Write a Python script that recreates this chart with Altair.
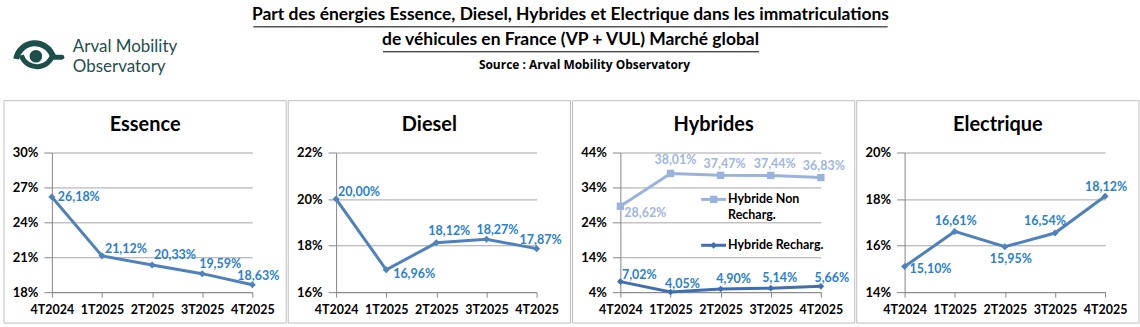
import altair as alt
import pandas as pd

# ---------------- data ----------------
QUARTERS = ["4T2024", "1T2025", "2T2025", "3T2025", "4T2025"]
ESSENCE = [26.18, 21.12, 20.33, 19.59, 18.63]
DIESEL = [20.00, 16.96, 18.12, 18.27, 17.87]
HYB_NON_RECH = [28.62, 38.01, 37.47, 37.44, 36.83]
HYB_RECH = [7.02, 4.05, 4.90, 5.14, 5.66]
ELECTRIQUE = [15.10, 16.61, 15.95, 16.54, 18.12]

PANEL_TITLES = ["Essence", "Diesel", "Hybrides", "Electrique"]
SERIES_NAMES = ["Hybride Non Recharg.", "Hybride Recharg."]
Y_TICKS = [
    [18, 21, 24, 27, 30],
    [16, 18, 20, 22],
    [4, 14, 24, 34, 44],
    [14, 16, 18, 20],
]
TITLE_LINES = [
    "Part des énergies Essence, Diesel, Hybrides et Electrique dans les immatriculations",
    "de véhicules en France (VP + VUL) Marché global",
]
SOURCE = "Source : Arval Mobility Observatory"
LOGO_LINES = ["Arval Mobility", "Observatory"]

# ---------------- styles ----------------
FONT = "Lato"
W, H = 201, 140
LINE_BLUE = "#4f81bd"
LABEL_BLUE = "#2a7fd0"
LIGHT_LINE = "#9ab3dc"
LIGHT_LABEL = "#9fb6de"
DARK_LINE = "#3f6fb0"
GRID = "#a6a6a6"
AXIS = "#868686"
BORDER = "#bfbfbf"
TEAL = "#1d4f4a"

# per-label offsets (dx, dy) of the data labels
OFF_ESS = [(27, 0), (24, -7), (23, -10), (18, -10), (6, -9)]
OFF_DIE = [(23, -7), (28, 4), (13, -12), (11, -9), (4, -9)]
OFF_HNR = [(25, 7), (5, -13), (4, -11), (4, -11), (3, -12)]
OFF_HR = [(19, -7), (12, -8), (13, -10), (9, -10), (11, -8)]
OFF_ELE = [(26, 2), (1, -10), (6, 12), (-10, -12), (1, -9)]

ONE = pd.DataFrame({"k": [0]})


def enc_xy(ticks):
    x = alt.X(
        "q:N",
        sort=QUARTERS,
        scale=alt.Scale(type="point", padding=0),
        axis=alt.Axis(
            title=None, labelAngle=0, labelFont=FONT, labelFontSize=12.5,
            labelFontWeight="bold", labelColor="black", domainColor=AXIS,
            tickColor=AXIS, tickSize=5, labelPadding=6, grid=False,
            labelFlush=False,
        ),
    )
    y = alt.Y(
        "v:Q",
        scale=alt.Scale(domain=[ticks[0], ticks[-1]], nice=False, zero=False),
        axis=alt.Axis(
            title=None, values=ticks, labelExpr="datum.value + '%'",
            labelFont=FONT, labelFontSize=13, labelFontWeight="bold",
            labelColor="black", domainColor=AXIS, tickColor=AXIS, tickSize=8,
            labelPadding=6, grid=True, gridColor=GRID, gridWidth=1,
        ),
    )
    return x, y


def series_layers(values, ticks, line_color, label_color, shape, size, offsets):
    df = pd.DataFrame({"q": QUARTERS, "v": values, "i": list(range(len(values)))})
    x, y = enc_xy(ticks)
    base = alt.Chart(df).encode(x=x, y=y)
    layers = [
        base.mark_line(color=line_color, strokeWidth=3),
        base.mark_point(shape=shape, size=size, filled=True, color=line_color, opacity=1),
    ]
    for i, (dx, dy) in enumerate(offsets):
        layers.append(
            base.transform_filter(alt.datum.i == i)
            .transform_calculate(lab="replace(format(datum.v, '.2f'), '.', ',') + '%'")
            .mark_text(dx=dx, dy=dy, font=FONT, fontSize=12.5, fontWeight="bold",
                       color=label_color, align="center", baseline="middle")
            .encode(text="lab:N")
        )
    return layers


def frame_layers(title):
    border = alt.Chart(ONE).mark_rect(fillOpacity=0, stroke=BORDER, strokeWidth=1).encode(
        x=alt.value(-48), x2=alt.value(235), y=alt.value(-52), y2=alt.value(171)
    )
    ttl = alt.Chart(ONE).mark_text(
        text=title, font=FONT, fontSize=20, fontWeight="bold", color="black",
        align="center", baseline="middle",
    ).encode(x=alt.value(93.5), y=alt.value(-28))
    return border, ttl


def panel(idx, series, extra=None):
    border, ttl = frame_layers(PANEL_TITLES[idx])
    layers = [border]
    for s in series:
        layers += series_layers(*s)
    if extra:
        layers += extra
    layers.append(ttl)
    return alt.layer(*layers).properties(width=W, height=H)


p1 = panel(0, [(ESSENCE, Y_TICKS[0], LINE_BLUE, LABEL_BLUE, "diamond", 50, OFF_ESS)])
p2 = panel(1, [(DIESEL, Y_TICKS[1], LINE_BLUE, LABEL_BLUE, "diamond", 50, OFF_DIE)])

legend = [
    alt.Chart(ONE).mark_rule(color=LIGHT_LINE, strokeWidth=3).encode(
        x=alt.value(81), x2=alt.value(106), y=alt.value(47)),
    alt.Chart(ONE).mark_point(shape="square", size=55, filled=True, color=LIGHT_LINE, opacity=1).encode(
        x=alt.value(93.5), y=alt.value(47)),
    alt.Chart(ONE).mark_text(
        text=["Hybride Non", "Recharg."], font=FONT, fontSize=12.5, fontWeight="bold",
        color="black", align="left", baseline="middle", lineHeight=16,
    ).encode(x=alt.value(108), y=alt.value(47)),
    alt.Chart(ONE).mark_rule(color=DARK_LINE, strokeWidth=3).encode(
        x=alt.value(81), x2=alt.value(106), y=alt.value(93)),
    alt.Chart(ONE).mark_point(shape="diamond", size=45, filled=True, color=DARK_LINE, opacity=1).encode(
        x=alt.value(93.5), y=alt.value(93)),
    alt.Chart(ONE).mark_text(
        text=SERIES_NAMES[1], font=FONT, fontSize=12.5, fontWeight="bold",
        color="black", align="left", baseline="middle",
    ).encode(x=alt.value(108), y=alt.value(93)),
]
p3 = panel(2, [
    (HYB_NON_RECH, Y_TICKS[2], LIGHT_LINE, LIGHT_LABEL, "square", 55, OFF_HNR),
    (HYB_RECH, Y_TICKS[2], DARK_LINE, LABEL_BLUE, "diamond", 45, OFF_HR),
], extra=legend)
p4 = panel(3, [(ELECTRIQUE, Y_TICKS[3], LINE_BLUE, LABEL_BLUE, "diamond", 50, OFF_ELE)])

# ---------------- header ----------------
# the header's origin is aligned with the first panel's plot origin (x = 51)
SX = -51
header_layers = [
    alt.Chart(ONE).mark_text(text=TITLE_LINES[0], font=FONT, fontSize=17.5, fontWeight="bold",
                             color="black", align="center", baseline="middle"
                             ).encode(x=alt.value(571 + SX), y=alt.value(15)),
    alt.Chart(ONE).mark_text(text=TITLE_LINES[1], font=FONT, fontSize=17.5, fontWeight="bold",
                             color="black", align="center", baseline="middle"
                             ).encode(x=alt.value(571 + SX), y=alt.value(40)),
    alt.Chart(ONE).mark_rule(color="black", strokeWidth=1).encode(
        x=alt.value(253 + SX), x2=alt.value(889 + SX), y=alt.value(26.5)),
    alt.Chart(ONE).mark_rule(color="black", strokeWidth=1).encode(
        x=alt.value(383 + SX), x2=alt.value(760 + SX), y=alt.value(51.5)),
    alt.Chart(ONE).mark_text(text=SOURCE, font="Open Sans", fontSize=12, fontWeight="bold",
                             color="black", align="center", baseline="middle"
                             ).encode(x=alt.value(585 + SX), y=alt.value(65)),
    # logo
    alt.Chart(ONE).mark_arc(radius=22, radius2=16, theta=4.88, theta2=7.55, color=TEAL).encode(
        x=alt.value(34 + SX), y=alt.value(62)),
    alt.Chart(ONE).mark_arc(radius=19, radius2=14, theta=1.75, theta2=4.4, color=TEAL).encode(
        x=alt.value(36 + SX), y=alt.value(50)),
    alt.Chart(ONE).mark_rule(color=TEAL, strokeWidth=5, strokeCap="round").encode(
        x=alt.value(53 + SX), x2=alt.value(61 + SX), y=alt.value(57)),
    alt.Chart(ONE).mark_point(shape="circle", size=160, filled=True, color=TEAL, opacity=1).encode(
        x=alt.value(35 + SX), y=alt.value(56)),
    alt.Chart(ONE).mark_text(text=LOGO_LINES[0], font=FONT, fontSize=17, color=TEAL,
                             align="left", baseline="alphabetic").encode(
        x=alt.value(72 + SX), y=alt.value(51.5)),
    alt.Chart(ONE).mark_text(text=LOGO_LINES[1], font=FONT, fontSize=17, color=TEAL,
                             align="left", baseline="alphabetic").encode(
        x=alt.value(72 + SX), y=alt.value(72)),
]
header = alt.layer(*header_layers).properties(width=1080, height=97)

panels = alt.hconcat(p1, p2, p3, p4, spacing=0)
chart = (
    alt.vconcat(header, panels, spacing=2.5)
    .properties(padding={"left": 3, "top": 0, "right": 0, "bottom": 0})
    .configure_view(stroke=None)
)

chart.save("out.html", embed_options={"renderer": "svg", "actions": False})
